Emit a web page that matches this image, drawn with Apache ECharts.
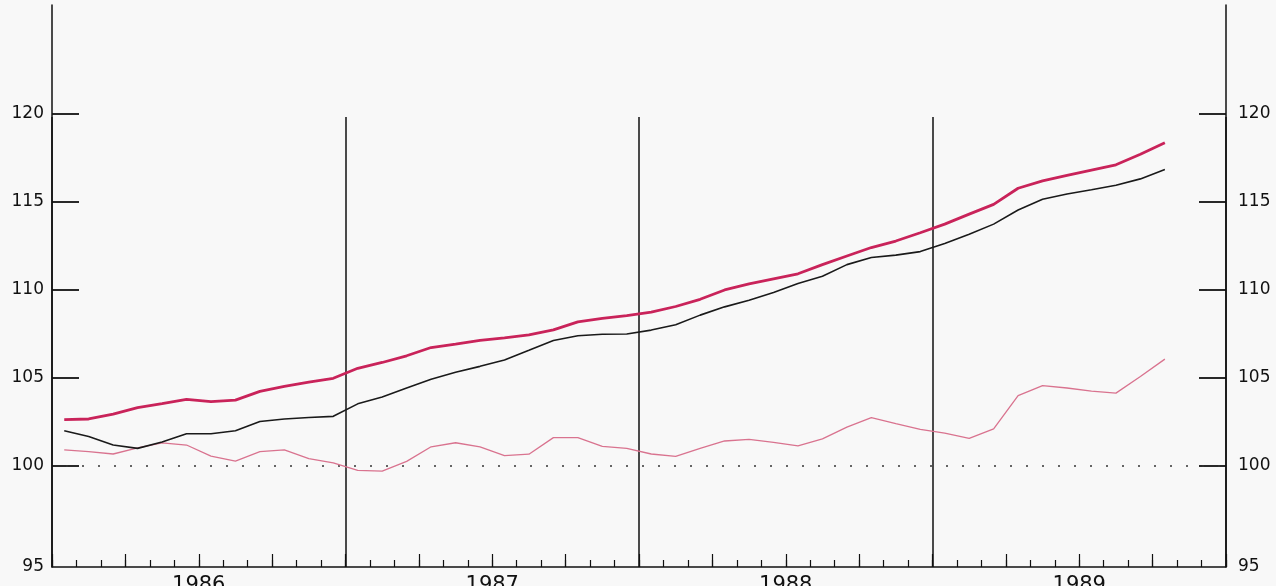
<!DOCTYPE html>
<html>
<head>
<meta charset="utf-8">
<script src="https://cdn.jsdelivr.net/npm/echarts@6/dist/echarts.min.js"></script>
<style>
html,body{margin:0;padding:0;background:#f8f8f8;}
#c{width:1276px;height:586px;}
</style>
</head>
<body>
<div id="c"></div>
<script>
// ---- data (monthly, Jan 1986 .. Oct 1989) ----
const years = ['1986', '1987', '1988', '1989'];
const monthsPerYear = 12;
const yTickValues = [100, 105, 110, 115, 120];
const yMin = 94.26;
const yMax = 126.19;

const upperRed = [
  102.63, 102.67, 102.94, 103.32, 103.54, 103.78, 103.65, 103.74, 104.24, 104.52, 104.76, 104.98,
  105.55, 105.88, 106.26, 106.73, 106.92, 107.13, 107.28, 107.45, 107.73, 108.19, 108.38, 108.54,
  108.74, 109.06, 109.47, 110.00, 110.34, 110.63, 110.92, 111.44, 111.93, 112.41, 112.78, 113.25,
  113.74, 114.31, 114.86, 115.78, 116.20, 116.51, 116.81, 117.11, 117.71, 118.37
];
const blackLine = [
  102.00, 101.67, 101.19, 101.00, 101.36, 101.83, 101.83, 102.00, 102.53, 102.67, 102.75, 102.82,
  103.53, 103.92, 104.43, 104.93, 105.33, 105.66, 106.02, 106.57, 107.13, 107.40, 107.48, 107.50,
  107.72, 108.02, 108.57, 109.04, 109.42, 109.86, 110.37, 110.78, 111.44, 111.84, 111.98, 112.18,
  112.64, 113.16, 113.74, 114.54, 115.15, 115.45, 115.69, 115.95, 116.31, 116.85
];
const lowerLine = [
  100.91, 100.82, 100.68, 101.03, 101.31, 101.19, 100.56, 100.28, 100.81, 100.91, 100.42, 100.17,
  99.75, 99.71, 100.26, 101.09, 101.32, 101.09, 100.59, 100.67, 101.61, 101.61, 101.11, 101.00,
  100.68, 100.54, 101.00, 101.42, 101.51, 101.34, 101.14, 101.54, 102.21, 102.75, 102.40, 102.08,
  101.86, 101.57, 102.11, 104.00, 104.56, 104.43, 104.25, 104.14, 105.08, 106.07
];
const baseline = 100;

// ---- build ----
const totalMonths = years.length * monthsPerYear;
const toPairs = arr => arr.map((v, i) => [i + 0.5, v]);
const yLabelValues = [yMin].concat(yTickValues);
const font = 'DejaVu Sans';

function monthAxis(interval, len, width) {
  return {
    type: 'value', gridIndex: 0, position: 'bottom', min: 0, max: totalMonths, interval: interval,
    axisLine: { show: interval === 1, onZero: false, lineStyle: { color: '#111', width: 1.5 } },
    axisTick: { show: true, inside: true, length: len, lineStyle: { color: '#111', width: width } },
    axisLabel: { show: false }, splitLine: { show: false }
  };
}
function yAx(pos, margin) {
  return {
    type: 'value', position: pos, min: yMin, max: yMax,
    axisLine: { show: true, onZero: false, lineStyle: { color: '#111', width: 1.5 } },
    axisTick: { show: true, inside: true, length: 27, customValues: yTickValues, lineStyle: { color: '#111', width: 1.8 } },
    axisLabel: {
      show: true, customValues: yLabelValues, margin: margin, fontFamily: font, fontSize: 17, color: '#111',
      formatter: v => (v < 95 ? '95' : String(Math.round(v)))
    },
    splitLine: { show: false }
  };
}

const chart = echarts.init(document.getElementById('c'), null, { renderer: 'canvas' });
chart.setOption({
  animation: false,
  backgroundColor: '#f8f8f8',
  grid: { left: 52, right: 50, top: 5, bottom: 19, containLabel: false, outerBoundsMode: 'none' },
  xAxis: [
    monthAxis(1, 7, 1.2),
    monthAxis(3, 13, 1.2),
    monthAxis(monthsPerYear, 450, 1.5),
    {
      type: 'category', gridIndex: 0, position: 'bottom', data: years, boundaryGap: true,
      axisLine: { show: false, onZero: false }, axisTick: { show: false },
      axisLabel: { show: true, margin: 8, fontFamily: font, fontSize: 21, color: '#111' },
      splitLine: { show: false }
    }
  ],
  yAxis: [yAx('left', 8), yAx('right', 12)],
  series: [
    {
      type: 'line', xAxisIndex: 0, yAxisIndex: 0, silent: true,
      data: [[0, baseline], [totalMonths, baseline]], symbol: 'none',
      lineStyle: { type: [2, 14], dashOffset: -30, color: '#333', width: 1.6 }
    },
    {
      type: 'line', xAxisIndex: 0, yAxisIndex: 0, data: toPairs(lowerLine), symbol: 'none',
      lineStyle: { color: '#d9738f', width: 1.3 }
    },
    {
      type: 'line', xAxisIndex: 0, yAxisIndex: 0, data: toPairs(blackLine), symbol: 'none',
      lineStyle: { color: '#1a1a1a', width: 1.6 }
    },
    {
      type: 'line', xAxisIndex: 0, yAxisIndex: 0, data: toPairs(upperRed), symbol: 'none',
      lineStyle: { color: '#c9235a', width: 2.8 }
    }
  ]
});
</script>
</body>
</html>
